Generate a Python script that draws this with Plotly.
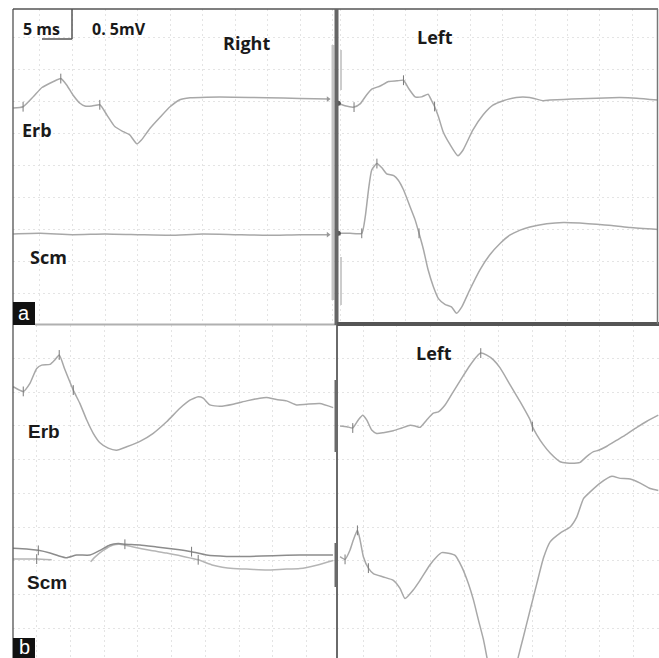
import plotly.graph_objects as go

W, H = 659, 658

# ---------------- data: time (ms), amplitude (mV, relative to trace start) ----------------
# Panel a, Right side
aR_erb_t = [0.9, 2.4, 4.0, 5.3, 6.0, 7.0, 8.2, 9.1, 10.1, 11.2, 11.9, 13.0, 14.2, 15.3, 16.5,
            17.8, 18.8, 19.9, 20.6, 21.9, 23.5, 25.0, 26.5, 28.1, 30.6, 34.7, 39.9, 45.0, 49.3]
aR_erb_v = [0.00, 0.02, 0.18, 0.32, 0.36, 0.41, 0.46, 0.36, 0.20, 0.07, 0.03, 0.03, 0.05, -0.11, -0.29,
            -0.37, -0.42, -0.56, -0.50, -0.32, -0.14, 0.02, 0.13, 0.16, 0.17, 0.17, 0.16, 0.15, 0.14]
aR_erb_ticks = [1, 6, 12]

aR_scm_t = [0.9, 5.0, 10.0, 15.0, 20.0, 25.0, 30.0, 35.0, 40.0, 45.0, 49.3]
aR_scm_v = [0.00, 0.01, -0.01, 0.00, -0.01, -0.02, 0.00, -0.01, -0.02, -0.01, -0.01]
aR_scm_ticks = []

# Panel a, Left side
aL_erb_t = [-0.35, 0.68, 2.07, 3.0, 4.0, 4.8, 6.1, 7.4, 8.7, 9.7, 10.5, 11.5, 12.5, 13.5, 14.0, 14.5,
            15.1, 15.8, 16.8, 18.1, 18.9, 20.4, 22.0, 23.5, 25.1, 27.1, 29.2, 31.3, 32.3, 34.4, 36.9,
            39.5, 43.1, 45.7, 49.0]
aL_erb_v = [0.00, -0.04, -0.06, -0.01, 0.13, 0.22, 0.27, 0.34, 0.35, 0.36, 0.23, 0.10, 0.10, 0.14, 0.05,
            -0.05, -0.21, -0.44, -0.63, -0.82, -0.73, -0.42, -0.18, -0.03, 0.04, 0.09, 0.09, 0.04, 0.05,
            0.06, 0.07, 0.08, 0.09, 0.08, 0.05]
aL_erb_ticks = [2, 9, 15]

aL_scm_t = [-0.35, 1.45, 3.26, 3.8, 4.3, 4.8, 5.6, 6.4, 7.1, 8.2, 8.9, 9.7, 10.7, 11.5, 12.1, 12.8,
            13.5, 14.3, 15.1, 16.1, 17.1, 17.9, 18.7, 19.9, 21.5, 23.0, 24.6, 26.1, 27.7, 29.2, 31.8,
            34.4, 36.9, 39.5, 42.1, 44.7, 49.0]
aL_scm_v = [0.00, 0.00, 0.00, 0.26, 0.68, 0.99, 1.09, 1.02, 0.93, 0.90, 0.83, 0.68, 0.42, 0.21, 0.00,
            -0.26, -0.57, -0.83, -1.02, -1.11, -1.15, -1.25, -1.15, -0.89, -0.57, -0.34, -0.16, -0.03,
            0.05, 0.10, 0.15, 0.17, 0.16, 0.14, 0.12, 0.09, 0.06]
aL_scm_ticks = [2, 6, 14]

# Panel b, Right side
bR_erb_t = [1.53, 3.01, 4.0, 5.0, 5.74, 6.97, 7.71, 8.34, 9.19, 10.42, 11.41, 12.40, 13.38, 14.37,
            15.60, 16.85, 18.33, 20.30, 22.27, 24.25, 26.22, 27.70, 28.93, 29.67, 30.66, 32.14, 34.11,
            36.10, 38.07, 39.06, 40.54, 42.02, 43.50, 44.98, 46.96, 48.93]
bR_erb_v = [0.00, -0.07, 0.05, 0.27, 0.32, 0.33, 0.40, 0.47, 0.25, -0.05, -0.25, -0.49, -0.69, -0.83,
            -0.91, -0.94, -0.89, -0.81, -0.69, -0.52, -0.32, -0.20, -0.15, -0.17, -0.27, -0.29, -0.26,
            -0.21, -0.17, -0.16, -0.19, -0.21, -0.27, -0.26, -0.25, -0.31]
bR_erb_ticks = [1, 7, 9]

bR_scm1_t = [1.53, 3.52, 5.24, 6.97, 8.20, 9.44, 10.92, 12.89, 14.37, 15.85, 17.08, 18.07, 20.30,
             22.77, 25.23, 27.95, 30.18, 33.14, 36.59, 40.04, 44.0, 48.9]
bR_scm1_v = [0.00, -0.01, -0.03, -0.07, -0.11, -0.14, -0.10, -0.10, -0.03, 0.05, 0.07, 0.06, 0.05,
             0.02, -0.01, -0.05, -0.10, -0.12, -0.12, -0.11, -0.10, -0.10]
bR_scm1_ticks = [2, 11, 15]

bR_scm2_t = [1.53, 3.52, 5.0, 7.22, None, 12.99, 13.63, 14.86, 16.34, 17.33, 19.31, 21.78, 24.25,
             26.71, 28.93, 31.15, 34.11, 36.59, 39.06, 41.52, 44.0, 46.47, 48.93]
bR_scm2_v = [-0.16, -0.16, -0.16, -0.17, None, -0.20, -0.13, -0.03, 0.05, 0.06, 0.02, -0.03, -0.07,
             -0.12, -0.17, -0.25, -0.30, -0.31, -0.32, -0.31, -0.30, -0.25, -0.18]
bR_scm2_ticks = [2, 14]

# Panel b, Left side
bL_erb_t = [1.60, 2.59, 3.48, 4.30, 4.95, 5.54, 6.28, 7.02, 8.0, 9.48, 10.72, 11.96, 12.70, 13.43,
            14.42, 15.40, 16.14, 17.13, 18.36, 19.60, 20.83, 21.82, 22.41, 23.30, 24.28, 25.27, 26.75,
            28.23, 29.71, 30.05, 30.70, 31.68, 32.67, 34.15, 35.14, 36.62, 37.11, 38.10, 39.09, 39.83,
            41.06, 42.54, 44.02, 45.50, 46.98, 48.67]
bL_erb_v = [0.00, -0.01, -0.03, 0.09, 0.16, 0.09, -0.06, -0.11, -0.10, -0.07, -0.03, 0.01, 0.00, -0.02,
            0.09, 0.19, 0.21, 0.31, 0.51, 0.71, 0.90, 1.03, 1.08, 1.05, 0.98, 0.86, 0.61, 0.36, 0.09,
            -0.01, -0.13, -0.28, -0.40, -0.53, -0.55, -0.55, -0.54, -0.45, -0.38, -0.36, -0.30, -0.21,
            -0.12, -0.02, 0.07, 0.16]
bL_erb_ticks = [2, 22, 29]

bL_scm_t = [1.60, 2.34, 3.08, 3.58, 4.17, 4.56, 5.05, 5.79, 6.53, 8.0, 9.48, 10.47, 11.21, 12.45,
            13.43, 14.91, 15.90, 16.64, 17.62, 18.61, 19.60, 20.59, 21.33, 22.07, 22.81, 23.30, 24.3,
            25.6, 27.0, 27.97, 28.71, 29.71, 30.70, 31.68, 32.67, 34.15, 35.63, 36.62, 37.60, 38.59,
            40.07, 41.80, 43.03, 44.51, 45.99, 47.47, 48.67]
bL_scm_v = [0.00, -0.04, 0.10, 0.25, 0.39, 0.25, 0.00, -0.17, -0.25, -0.30, -0.35, -0.47, -0.62, -0.49,
            -0.35, -0.12, 0.00, 0.06, 0.05, 0.02, -0.15, -0.40, -0.64, -0.94, -1.23, -1.48, -2.0,
            -2.3, -1.9, -1.48, -1.19, -0.79, -0.40, -0.02, 0.22, 0.35, 0.44, 0.59, 0.86, 0.96, 1.09,
            1.19, 1.16, 1.15, 1.09, 1.01, 0.98]
bL_scm_ticks = [1, 4, 7]

# ---------------- layout helpers (pixel -> paper) ----------------
def px(x):
    return x / W

def py(y):
    return 1 - y / H

# panel: (axis suffix, x-domain px, y-domain px, x range ms, y range mV)
panels = {
    "aR": ("", (13, 335), (9, 324), (0.85, 50.37), (0.031, 4.953)),
    "aL": ("2", (337, 658), (9, 324), (-0.56, 48.98), (0.031, 4.953)),
    "bR": ("3", (13, 336), (325, 658), (1.49, 49.35), (0.06, 4.993)),
    "bL": ("4", (337, 659), (325, 658), (1.15, 48.77), (0.06, 4.993)),
}

TRACE = "#a8a8a8"
DARK_TRACE = "#8c8c8c"
GRID = "#e4e4e4"

# (panel, t, v, baseline offset in display mV, colour, tick indices)
traces = [
    ("aR", aR_erb_t, aR_erb_v, 3.406, TRACE, aR_erb_ticks),
    ("aR", aR_scm_t, aR_scm_v, 1.4375, TRACE, aR_scm_ticks),
    ("aL", aL_erb_t, aL_erb_v, 3.48, TRACE, aL_erb_ticks),
    ("aL", aL_scm_t, aL_scm_v, 1.448, TRACE, aL_scm_ticks),
    ("bR", bR_erb_t, bR_erb_v, 4.079, TRACE, bR_erb_ticks),
    ("bR", bR_scm2_t, bR_scm2_v, 1.685, "#b5b5b5", bR_scm2_ticks),
    ("bR", bR_scm1_t, bR_scm1_v, 1.685, DARK_TRACE, bR_scm1_ticks),
    ("bL", bL_erb_t, bL_erb_v, 3.497, TRACE, bL_erb_ticks),
    ("bL", bL_scm_t, bL_scm_v, 1.561, TRACE, bL_scm_ticks),
]

fig = go.Figure()

for pname, t, v, off, col, ticks in traces:
    suf = panels[pname][0]
    y = [None if vv is None else vv + off for vv in v]
    fig.add_trace(go.Scatter(
        x=t, y=y, mode="lines", xaxis="x" + suf, yaxis="y" + suf,
        line=dict(color=col, width=1.5, shape="spline", smoothing=0.5),
        connectgaps=False, hoverinfo="skip", showlegend=False))
    if ticks:
        fig.add_trace(go.Scatter(
            x=[t[i] for i in ticks], y=[y[i] for i in ticks], mode="markers",
            xaxis="x" + suf, yaxis="y" + suf,
            marker=dict(symbol="line-ns", size=7, line=dict(color="#7a7a7a", width=1)),
            hoverinfo="skip", showlegend=False))

# end arrows on panel a Right traces, start dots on panel a Left traces
for t, v, off in [(aR_erb_t, aR_erb_v, 3.406), (aR_scm_t, aR_scm_v, 1.4375)]:
    fig.add_trace(go.Scatter(x=[t[-1]], y=[v[-1] + off], mode="markers", xaxis="x", yaxis="y",
                             marker=dict(symbol="triangle-right", size=5, color="#999999"),
                             hoverinfo="skip", showlegend=False))
for t, v, off in [(aL_erb_t, aL_erb_v, 3.48), (aL_scm_t, aL_scm_v, 1.448)]:
    fig.add_trace(go.Scatter(x=[t[0]], y=[v[0] + off], mode="markers", xaxis="x2", yaxis="y2",
                             marker=dict(symbol="circle", size=5, color="#555555"),
                             hoverinfo="skip", showlegend=False))

layout = dict(
    width=W, height=H, margin=dict(l=0, r=0, t=0, b=0),
    paper_bgcolor="white", plot_bgcolor="white", showlegend=False,
)
for pname, (suf, xd, yd, xr, yr) in panels.items():
    layout["xaxis" + suf] = dict(
        domain=[px(xd[0]), px(xd[1])], range=list(xr), anchor="y" + suf,
        tick0=0, dtick=5, showgrid=True, gridcolor=GRID, griddash="2px,3px", gridwidth=1,
        showticklabels=False, zeroline=False, showline=False, ticks="", fixedrange=True)
    layout["yaxis" + suf] = dict(
        domain=[py(yd[1]), py(yd[0])], range=list(yr), anchor="x" + suf,
        tick0=0, dtick=0.5, showgrid=True, gridcolor=GRID, griddash="2px,3px", gridwidth=1,
        showticklabels=False, zeroline=False, showline=False, ticks="", fixedrange=True)
fig.update_layout(**layout)

# ---------------- frame lines ----------------
def seg(x0, y0, x1, y1, color, width):
    fig.add_shape(type="line", xref="paper", yref="paper",
                  x0=px(x0), y0=py(y0), x1=px(x1), y1=py(y1),
                  line=dict(color=color, width=width))

seg(13, 9, 658, 9, "#555555", 1.5)          # top border
seg(13, 9, 13, 658, "#444444", 1.2)          # left border
seg(35, 324.5, 336, 324.5, "#b0b0b0", 2)     # panel a right bottom
seg(333, 45, 333, 300, "#c4c4c4", 3)         # grey bar right of panel a Right
seg(336.5, 9, 336.5, 325, "#666666", 4)      # central divider (top)
seg(337, 325, 337, 658, "#6a6a6a", 2)        # central divider (bottom)
seg(336, 380, 336, 452, "#6a6a6a", 3)
seg(336, 543, 336, 587, "#6a6a6a", 3)
seg(337, 324, 659, 324, "#555555", 4)        # panel a left bottom
seg(657.5, 9, 657.5, 324, "#777777", 1.5)    # right border
seg(341, 50, 341, 90, "#cccccc", 2)
seg(341, 257, 341, 305, "#cccccc", 2)

# scale bar
seg(72, 9, 72, 39, "#555555", 1.5)
seg(42, 39, 72, 39, "#555555", 1.5)

# panel letter boxes
for y0, y1 in [(302, 325), (638, 658)]:
    fig.add_shape(type="rect", xref="paper", yref="paper",
                  x0=px(13), x1=px(35), y0=py(y1), y1=py(y0),
                  fillcolor="#111111", line=dict(width=0))

# ---------------- text ----------------
def label(txt, x, y, size, family="Open Sans", color="#1a1a1a", bold=True):
    fig.add_annotation(text=("<b>%s</b>" % txt) if bold else txt, xref="paper", yref="paper",
                       x=px(x), y=py(y), xanchor="center", yanchor="middle", showarrow=False,
                       font=dict(family=family, size=size, color=color))

label("5 ms", 41, 29, 16)
label("0. 5mV", 119, 29, 16)
label("Right", 247, 43, 18)
label("Left", 435, 37, 18)
label("Erb", 37, 130, 18)
label("Scm", 48, 257, 18)
label("Erb", 44, 431, 19, family="Liberation Sans")
label("Scm", 47, 582, 19, family="Liberation Sans")
label("Left", 434, 353, 18)
label("a", 24, 313, 20, family="Liberation Sans", color="white", bold=False)
label("b", 24, 647, 20, family="Liberation Sans", color="white", bold=False)

fig.write_html("out.html", config={"displayModeBar": False},
               post_script="document.body.style.margin='0';document.body.style.overflow='hidden';")
